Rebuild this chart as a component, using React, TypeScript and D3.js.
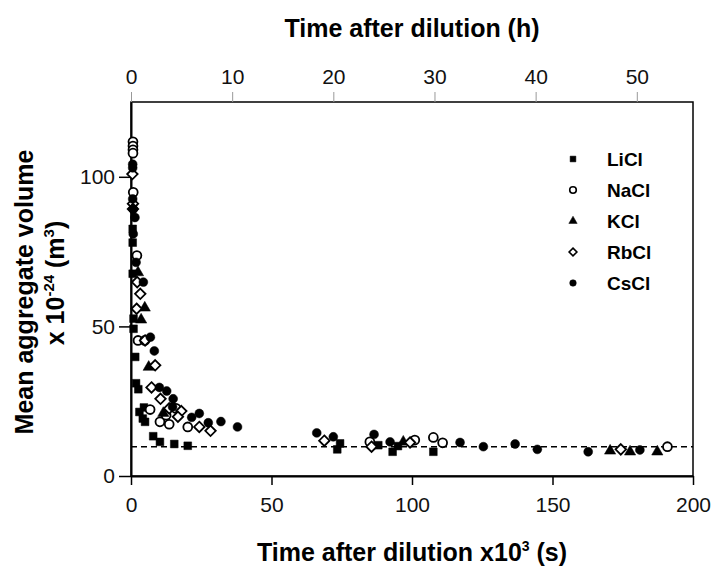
import { useEffect, useRef } from 'react'
import * as d3 from 'd3'

// time after dilution (x10^3 s), mean aggregate volume (x10^-24 m^3)
const liclT = [0.6, 0.6, 0.6, 0.9, 0.9, 1.5, 1.8, 2.6, 3.0, 4.6, 4.2, 5.0, 7.9, 10.3, 15.4, 20.2, 73.4, 74.4, 88, 93.1, 95, 107.6]
const liclV = [82.6, 78, 67.6, 52.6, 49.2, 39.8, 31, 29, 21.4, 22.9, 19.2, 18.1, 13.3, 11.4, 10.7, 10.1, 8.9, 10.9, 10.3, 8.1, 10, 8.1]

const naclT = [0.7, 0.7, 0.7, 0.7, 0.8, 2.1, 2.5, 4.9, 6.8, 10.3, 12.5, 13.6, 16, 20.2, 85, 101, 107.6, 110.9, 190.9]
const naclV = [111.7, 110.3, 109, 107.9, 94.8, 73.7, 45.3, 45.3, 22.2, 18.1, 20.3, 17.3, 22.6, 16.4, 11.4, 12, 12.9, 11.1, 9.8]

const kclT = [2.5, 4.9, 3.6, 6.3, 11.5, 96.9, 170.5, 177.6, 187.3]
const kclV = [68, 56.2, 52.2, 36.4, 21, 11.4, 8.4, 8.1, 8.1]

const rbclT = [0.5, 0.7, 0.7, 2.2, 3.3, 2.0, 5, 8.6, 7.3, 10.5, 13.6, 17.9, 16.7, 24.3, 28.3, 68.8, 85.6, 99.3, 174.3]
const rbclV = [100.9, 91, 89.2, 64.8, 60.9, 55.9, 45.3, 37, 29.6, 25.8, 22.6, 21.7, 19.8, 16.4, 15.1, 11.8, 9.8, 11.2, 8.9]

const csclT = [0.6, 0.6, 0.6, 0.8, 1.4, 0.8, 1.8, 4.4, 6.9, 8.3, 10.1, 12.7, 15, 14.8, 21.6, 24.3, 27.5, 32, 37.9, 66.1, 72, 86.5, 92.2, 117.1, 125.4, 136.7, 144.6, 162.7, 181.1]
const csclV = [104.2, 103, 92.6, 89.2, 86.4, 80.9, 71.4, 64.8, 46.4, 41.8, 29.6, 28.4, 25.8, 23.1, 19.6, 20.9, 17.8, 18.2, 16.4, 14.4, 13.1, 13.9, 11.4, 11.2, 9.8, 10.7, 8.9, 8.1, 8.7]

const baseline = 9.8
const xTicks = [0, 50, 100, 150, 200]
const hTicks = [0, 10, 20, 30, 40, 50]
const yTicks = [0, 50, 100]

const series = [
  { name: 'LiCl', t: liclT, v: liclV, shape: 'square', filled: true },
  { name: 'NaCl', t: naclT, v: naclV, shape: 'circle', filled: false },
  { name: 'KCl', t: kclT, v: kclV, shape: 'triangle', filled: true },
  { name: 'RbCl', t: rbclT, v: rbclV, shape: 'diamond', filled: false },
  { name: 'CsCl', t: csclT, v: csclV, shape: 'circle', filled: true },
]

const symbolFor = (shape: string) =>
  shape === 'square' ? d3.symbolSquare : shape === 'triangle' ? d3.symbolTriangle : shape === 'diamond' ? d3.symbolDiamond2 : d3.symbolCircle

export default function App() {
  const svgRef = useRef<SVGSVGElement>(null)

  useEffect(() => {
    if (!svgRef.current) return
    document.body.style.margin = '0'
    const svg = d3.select(svgRef.current)
    svg.selectAll('*').remove()

    const width = 715
    const height = 566
    const m = { left: 131, right: 22, top: 102, bottom: 90 }
    const font = 'Liberation Sans, Arial, sans-serif'

    const x = d3.scaleLinear().domain([0, 200]).range([m.left, width - m.right])
    const xh = d3.scaleLinear().domain([0, 200 / 3.6]).range([m.left, width - m.right])
    const y = d3.scaleLinear().domain([0, 125]).range([height - m.bottom, m.top])

    // frame
    svg.append('rect')
      .attr('x', m.left).attr('y', m.top)
      .attr('width', width - m.left - m.right).attr('height', height - m.top - m.bottom)
      .attr('fill', 'none').attr('stroke', '#000').attr('stroke-width', 1.5)

    // bottom axis
    const bx = svg.append('g').attr('transform', `translate(0,${y(0)})`)
      .call(d3.axisBottom(x).tickValues(xTicks).tickSize(9).tickSizeOuter(0).tickPadding(12))
    bx.select('.domain').attr('stroke-width', 2)
    bx.selectAll('line').attr('stroke-width', 1.5)
    bx.selectAll('text').attr('font-size', 21).attr('font-family', font).attr('fill', '#111')

    // top axis (hours)
    const tx = svg.append('g').attr('transform', `translate(0,${m.top})`)
      .call(d3.axisTop(xh).tickValues(hTicks).tickSize(10).tickSizeOuter(0).tickPadding(8))
    tx.select('.domain').remove()
    tx.selectAll('line').attr('stroke', '#999').attr('stroke-width', 1)
    tx.selectAll('text').attr('font-size', 21).attr('font-family', font).attr('fill', '#111')

    // left axis
    const ly = svg.append('g').attr('transform', `translate(${m.left},0)`)
      .call(d3.axisLeft(y).tickValues(yTicks).tickSize(12).tickSizeOuter(0).tickPadding(4))
    ly.select('.domain').attr('stroke-width', 2)
    ly.selectAll('line').attr('stroke-width', 1.5)
    ly.selectAll('text').attr('font-size', 21).attr('font-family', font).attr('fill', '#111')

    // dashed plateau
    svg.append('line')
      .attr('x1', x(0)).attr('x2', x(200))
      .attr('y1', y(baseline)).attr('y2', y(baseline))
      .attr('stroke', '#000').attr('stroke-width', 1.5).attr('stroke-dasharray', '6,4')

    const sizeFor = (shape: string, s: number) =>
      (shape === 'square' ? 60 : shape === 'triangle' ? 55 : shape === 'diamond' ? 70 : 62) * s

    // points
    series.forEach(s => {
      const sym = d3.symbol().type(symbolFor(s.shape)).size(sizeFor(s.shape, 1))
      svg.append('g').selectAll('path')
        .data(s.t.map((t, i) => [t, s.v[i]]))
        .enter().append('path')
        .attr('d', sym)
        .attr('transform', d => `translate(${x(d[0])},${y(d[1])})`)
        .attr('fill', s.filled ? '#000' : '#fff')
        .attr('stroke', '#000')
        .attr('stroke-width', s.filled ? 0.5 : 1.8)
    })

    // legend
    const lg = svg.append('g')
    series.forEach((s, i) => {
      const yy = 159 + i * 31
      lg.append('path')
        .attr('d', d3.symbol().type(symbolFor(s.shape)).size(sizeFor(s.shape, 0.55)))
        .attr('transform', `translate(573,${yy})`)
        .attr('fill', s.filled ? '#000' : '#fff')
        .attr('stroke', '#000')
        .attr('stroke-width', s.filled ? 0.5 : 1.6)
      lg.append('text')
        .attr('x', 607).attr('y', yy).attr('dy', '0.36em')
        .attr('font-size', 19).attr('font-weight', 700).attr('font-family', font)
        .text(s.name)
    })

    // titles
    svg.append('text')
      .attr('x', 412).attr('y', 37).attr('text-anchor', 'middle')
      .attr('font-size', 25).attr('font-weight', 700).attr('font-family', font)
      .text('Time after dilution (h)')

    const bt = svg.append('text')
      .attr('x', 412).attr('y', 561).attr('text-anchor', 'middle')
      .attr('font-size', 25).attr('font-weight', 700).attr('font-family', font)
    bt.append('tspan').text('Time after dilution x10')
    bt.append('tspan').attr('font-size', 14).attr('dy', -10).text('3')
    bt.append('tspan').attr('dy', 10).text(' (s)')

    const yt = svg.append('g').attr('transform', 'translate(0,292) rotate(-90)')
    yt.append('text')
      .attr('x', 0).attr('y', 33).attr('text-anchor', 'middle')
      .attr('font-size', 25).attr('font-weight', 700).attr('font-family', font)
      .text('Mean aggregate volume')
    const yt2 = yt.append('text')
      .attr('x', 9).attr('y', 64).attr('text-anchor', 'middle')
      .attr('font-size', 25).attr('font-weight', 700).attr('font-family', font)
    yt2.append('tspan').text('x 10')
    yt2.append('tspan').attr('font-size', 15).attr('dy', -10).text('-24')
    yt2.append('tspan').attr('dy', 10).text('  (m')
    yt2.append('tspan').attr('font-size', 15).attr('dy', -10).text('3')
    yt2.append('tspan').attr('dy', 10).text(')')
  }, [])

  return <svg ref={svgRef} width={715} height={566} style={{ display: 'block', background: '#fff' }} />
}
